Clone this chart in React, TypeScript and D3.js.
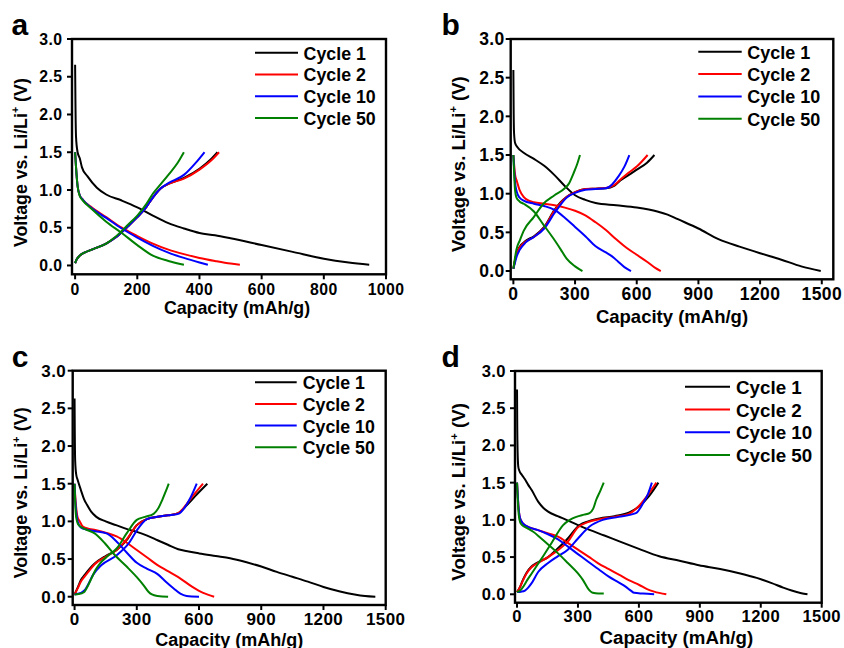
import React from "react";
import * as d3 from "d3";

type Pt = [number, number];

const cycleNames = ["Cycle 1", "Cycle 2", "Cycle 10", "Cycle 50"];
const cycleColors = ["#000000", "#ff0000", "#0000ff", "#008000"];
const voltageTicks = [0, 0.5, 1, 1.5, 2, 2.5, 3];
const capTicksA = [0, 200, 400, 600, 800, 1000];
const capTicksBCD = [0, 300, 600, 900, 1200, 1500];

// ---- panel a : capacity (mAh/g), voltage (V)
const aDis1: Pt[] = [[0, 2.66], [1, 2.2], [3, 1.7], [8, 1.5], [15, 1.42], [22, 1.3], [40, 1.18], [70, 1.03], [100, 0.94], [150, 0.86], [200, 0.77], [250, 0.66], [300, 0.56], [350, 0.49], [400, 0.43], [450, 0.4], [500, 0.36], [600, 0.27], [700, 0.18], [800, 0.09], [880, 0.04], [946, 0.01]];
const aChg1: Pt[] = [[0, 0.03], [5, 0.08], [15, 0.13], [30, 0.17], [60, 0.22], [100, 0.29], [130, 0.37], [170, 0.52], [200, 0.64], [230, 0.78], [250, 0.9], [275, 1.02], [300, 1.08], [350, 1.16], [400, 1.28], [435, 1.4], [458, 1.5]];
const aDis2: Pt[] = [[0, 1.5], [3, 1.3], [8, 1.05], [15, 0.93], [25, 0.87], [50, 0.78], [100, 0.64], [150, 0.5], [200, 0.39], [250, 0.29], [300, 0.21], [350, 0.15], [400, 0.1], [450, 0.06], [500, 0.025], [530, 0.01]];
const aChg2: Pt[] = [[0, 0.03], [5, 0.08], [15, 0.13], [30, 0.17], [60, 0.22], [100, 0.29], [130, 0.37], [170, 0.52], [200, 0.64], [230, 0.78], [250, 0.9], [275, 1.02], [300, 1.08], [350, 1.15], [400, 1.27], [440, 1.4], [463, 1.5]];
const aDis10: Pt[] = [[0, 1.5], [3, 1.3], [8, 1.05], [15, 0.93], [25, 0.87], [50, 0.77], [100, 0.63], [150, 0.49], [200, 0.37], [250, 0.26], [300, 0.17], [350, 0.1], [400, 0.04], [427, 0.01]];
const aChg10: Pt[] = [[0, 0.03], [5, 0.08], [15, 0.13], [30, 0.17], [60, 0.22], [100, 0.29], [130, 0.37], [170, 0.52], [200, 0.64], [230, 0.78], [250, 0.9], [275, 1.02], [300, 1.09], [350, 1.2], [390, 1.37], [416, 1.5]];
const aDis50: Pt[] = [[0, 1.5], [3, 1.3], [8, 1.05], [15, 0.92], [25, 0.86], [50, 0.76], [100, 0.58], [150, 0.43], [200, 0.27], [250, 0.13], [300, 0.06], [350, 0.01]];
const aChg50: Pt[] = [[0, 0.03], [5, 0.08], [15, 0.13], [30, 0.17], [60, 0.22], [100, 0.29], [130, 0.38], [170, 0.54], [200, 0.66], [230, 0.82], [250, 0.95], [270, 1.05], [300, 1.2], [330, 1.36], [350, 1.5]];

// ---- panel b
const bDis1: Pt[] = [[0, 2.6], [1, 2.2], [3, 1.8], [8, 1.66], [20, 1.6], [50, 1.53], [100, 1.45], [150, 1.36], [200, 1.24], [250, 1.1], [300, 0.98], [350, 0.92], [400, 0.88], [500, 0.85], [600, 0.82], [700, 0.77], [750, 0.73], [800, 0.67], [900, 0.55], [1000, 0.41], [1100, 0.315], [1200, 0.23], [1300, 0.15], [1400, 0.06], [1495, 0.0]];
const bChg1: Pt[] = [[0, 0.03], [5, 0.1], [15, 0.22], [30, 0.31], [60, 0.39], [100, 0.45], [150, 0.57], [200, 0.79], [230, 0.89], [260, 0.96], [300, 1.02], [350, 1.06], [400, 1.065], [450, 1.07], [490, 1.1], [520, 1.17], [560, 1.24], [600, 1.31], [650, 1.4], [686, 1.5]];
const bDis2: Pt[] = [[0, 1.5], [3, 1.4], [8, 1.25], [16, 1.17], [30, 1.05], [50, 0.96], [75, 0.91], [100, 0.89], [150, 0.87], [200, 0.85], [250, 0.82], [300, 0.78], [350, 0.72], [400, 0.63], [450, 0.53], [500, 0.41], [550, 0.3], [600, 0.21], [650, 0.12], [690, 0.04], [717, 0.0]];
const bChg2: Pt[] = [[0, 0.03], [5, 0.1], [15, 0.22], [30, 0.3], [60, 0.38], [100, 0.44], [150, 0.56], [200, 0.78], [230, 0.88], [260, 0.96], [300, 1.02], [350, 1.06], [400, 1.065], [450, 1.075], [490, 1.11], [520, 1.18], [560, 1.27], [600, 1.35], [653, 1.5]];
const bDis10: Pt[] = [[0, 1.5], [3, 1.35], [8, 1.15], [16, 1.03], [30, 0.95], [50, 0.91], [100, 0.87], [150, 0.84], [200, 0.79], [250, 0.69], [300, 0.57], [350, 0.45], [400, 0.32], [450, 0.24], [480, 0.19], [510, 0.12], [540, 0.05], [572, 0.0]];
const bChg10: Pt[] = [[0, 0.03], [5, 0.08], [15, 0.18], [30, 0.27], [60, 0.37], [100, 0.44], [150, 0.55], [200, 0.75], [230, 0.86], [260, 0.95], [300, 1.01], [350, 1.05], [400, 1.06], [450, 1.07], [480, 1.12], [510, 1.22], [540, 1.35], [564, 1.5]];
const bDis50: Pt[] = [[0, 1.5], [3, 1.3], [8, 1.05], [15, 0.95], [30, 0.9], [50, 0.87], [100, 0.77], [146, 0.6], [195, 0.42], [230, 0.28], [259, 0.16], [300, 0.06], [336, 0.0]];
const bChg50: Pt[] = [[0, 0.03], [5, 0.12], [15, 0.28], [32, 0.4], [50, 0.52], [100, 0.7], [146, 0.87], [200, 0.98], [250, 1.07], [270, 1.13], [292, 1.26], [310, 1.38], [324, 1.5]];

// ---- panel c
const cDis1: Pt[] = [[0, 2.63], [1, 2.2], [3, 1.8], [8, 1.62], [15, 1.55], [30, 1.42], [45, 1.3], [60, 1.22], [80, 1.13], [105, 1.06], [150, 1.0], [200, 0.95], [250, 0.9], [300, 0.86], [350, 0.81], [400, 0.75], [450, 0.69], [500, 0.63], [550, 0.6], [600, 0.575], [680, 0.54], [750, 0.51], [825, 0.46], [900, 0.4], [975, 0.33], [1050, 0.265], [1125, 0.2], [1200, 0.13], [1280, 0.07], [1350, 0.03], [1400, 0.01], [1450, 0.0]];
const cChg1: Pt[] = [[0, 0.03], [15, 0.12], [30, 0.22], [49, 0.29], [75, 0.38], [97, 0.44], [150, 0.54], [203, 0.62], [251, 0.75], [300, 0.95], [349, 1.03], [400, 1.06], [450, 1.08], [500, 1.11], [543, 1.22], [590, 1.36], [640, 1.5]];
const cDis2: Pt[] = [[0, 1.5], [3, 1.35], [8, 1.18], [15, 1.05], [25, 1.0], [40, 0.93], [70, 0.9], [100, 0.885], [150, 0.85], [203, 0.8], [250, 0.72], [300, 0.62], [350, 0.52], [400, 0.42], [450, 0.34], [500, 0.26], [568, 0.13], [620, 0.05], [673, 0.0]];
const cChg2: Pt[] = [[0, 0.03], [15, 0.11], [30, 0.2], [49, 0.27], [75, 0.36], [97, 0.43], [150, 0.53], [203, 0.62], [251, 0.76], [300, 0.95], [349, 1.03], [400, 1.06], [450, 1.08], [500, 1.11], [540, 1.23], [580, 1.37], [619, 1.5]];
const cDis10: Pt[] = [[0, 1.5], [3, 1.3], [8, 1.12], [15, 1.0], [30, 0.92], [60, 0.89], [100, 0.87], [154, 0.84], [200, 0.74], [250, 0.59], [300, 0.45], [350, 0.37], [400, 0.3], [440, 0.2], [478, 0.11], [510, 0.04], [540, 0.01], [600, 0.0]];
const cChg10: Pt[] = [[0, 0.03], [30, 0.05], [50, 0.09], [65, 0.16], [89, 0.29], [130, 0.42], [203, 0.55], [259, 0.7], [308, 0.91], [349, 1.03], [400, 1.06], [450, 1.08], [500, 1.1], [530, 1.18], [560, 1.32], [589, 1.5]];
const cDis50: Pt[] = [[0, 1.5], [3, 1.25], [8, 1.05], [20, 0.95], [49, 0.9], [97, 0.84], [146, 0.71], [195, 0.55], [251, 0.4], [300, 0.26], [332, 0.155], [355, 0.07], [373, 0.03], [400, 0.01], [451, 0.0]];
const cChg50: Pt[] = [[0, 0.03], [20, 0.035], [45, 0.06], [65, 0.15], [81, 0.24], [100, 0.35], [122, 0.44], [160, 0.54], [203, 0.64], [251, 0.84], [300, 1.02], [340, 1.06], [381, 1.1], [405, 1.18], [422, 1.28], [440, 1.4], [454, 1.5]];

// ---- panel d
const dDis1: Pt[] = [[0, 2.75], [1, 2.3], [3, 1.9], [6, 1.72], [10, 1.67], [25, 1.6], [39, 1.545], [55, 1.47], [72, 1.4], [104, 1.245], [130, 1.16], [153, 1.11], [200, 1.05], [243, 1.0], [300, 0.93], [357, 0.865], [430, 0.79], [504, 0.71], [600, 0.61], [700, 0.51], [800, 0.45], [895, 0.39], [1000, 0.34], [1099, 0.28], [1180, 0.22], [1254, 0.15], [1310, 0.09], [1352, 0.05], [1400, 0.015], [1430, 0.0]];
const dChg1: Pt[] = [[0, 0.03], [15, 0.1], [30, 0.2], [47, 0.29], [70, 0.37], [96, 0.42], [153, 0.5], [194, 0.6], [243, 0.73], [308, 0.93], [350, 0.98], [406, 1.02], [480, 1.05], [553, 1.1], [600, 1.18], [650, 1.32], [696, 1.5]];
const dDis2: Pt[] = [[0, 1.5], [3, 1.35], [8, 1.15], [15, 1.02], [30, 0.95], [60, 0.9], [100, 0.865], [150, 0.82], [202, 0.775], [250, 0.69], [300, 0.6], [350, 0.51], [398, 0.42], [450, 0.34], [504, 0.26], [550, 0.19], [602, 0.125], [640, 0.07], [675, 0.036], [735, 0.0]];
const dChg2: Pt[] = [[0, 0.03], [15, 0.1], [30, 0.19], [47, 0.28], [70, 0.36], [96, 0.41], [153, 0.5], [200, 0.59], [250, 0.71], [300, 0.9], [350, 0.97], [406, 1.01], [480, 1.04], [550, 1.08], [590, 1.16], [640, 1.32], [686, 1.5]];
const dDis10: Pt[] = [[0, 1.5], [3, 1.35], [8, 1.15], [15, 1.02], [30, 0.95], [60, 0.9], [100, 0.865], [150, 0.81], [200, 0.74], [251, 0.64], [300, 0.54], [349, 0.44], [400, 0.34], [450, 0.24], [500, 0.16], [536, 0.1], [560, 0.05], [577, 0.02], [620, 0.01], [675, 0.0]];
const dChg10: Pt[] = [[0, 0.03], [20, 0.035], [39, 0.05], [55, 0.09], [72, 0.15], [104, 0.3], [153, 0.42], [200, 0.51], [250, 0.6], [300, 0.75], [357, 0.91], [422, 1.0], [500, 1.04], [585, 1.09], [620, 1.22], [645, 1.35], [664, 1.5]];
const dDis50: Pt[] = [[0, 1.5], [3, 1.3], [8, 1.08], [15, 0.97], [25, 0.93], [50, 0.89], [80, 0.84], [115, 0.76], [153, 0.67], [202, 0.55], [250, 0.42], [300, 0.28], [325, 0.19], [349, 0.08], [373, 0.02], [400, 0.01], [427, 0.01]];
const dChg50: Pt[] = [[0, 0.03], [15, 0.05], [30, 0.1], [50, 0.19], [72, 0.28], [121, 0.48], [170, 0.69], [227, 0.93], [260, 1.0], [292, 1.04], [330, 1.07], [357, 1.09], [375, 1.15], [390, 1.27], [410, 1.39], [427, 1.5]];

const FONT = "'Liberation Sans', Arial, Helvetica, sans-serif";

interface PanelCfg {
  letter: string;
  letterPos: [number, number];
  box: [number, number, number, number]; // left, top, right, bottom
  xDom: [number, number];
  yDom: [number, number];
  xTicks: number[];
  curves: Pt[][][];
  tickFont: number;
  yLabelGap: number;
  xLabelDy: number;
  titleFont: number;
  xTitleDx: number;
  xTitleDy: number;
  yTitleDx: number;
  yTitleDy: number;
  legendFont: number;
  legend: { x0: number; x1: number; tx: number; y: number; dy: number };
}

const panels: PanelCfg[] = [
  {
    letter: "a", letterPos: [11.5, 34.5], box: [72, 39, 386, 274.3], xDom: [-10, 1000], yDom: [-0.117, 3], xTicks: capTicksA,
    curves: [[aDis1, aChg1], [aDis2, aChg2], [aDis10, aChg10], [aDis50, aChg50]],
    tickFont: 15.8, yLabelGap: 9.5, xLabelDy: 20.5, titleFont: 17.8, xTitleDx: 8, xTitleDy: 39.7, yTitleDx: -45.5, yTitleDy: 6,
    legendFont: 17.8, legend: { x0: -131, x1: -88, tx: -82.4, y: 14.3, dy: 21.7 },
  },
  {
    letter: "b", letterPos: [441.5, 35], box: [510.7, 39, 833.3, 279.3], xDom: [-13, 1556], yDom: [-0.107, 3], xTicks: capTicksBCD,
    curves: [[bDis1, bChg1], [bDis2, bChg2], [bDis10, bChg10], [bDis50, bChg50]],
    tickFont: 17.5, yLabelGap: 6, xLabelDy: 20.5, titleFont: 18.5, xTitleDx: 0, xTitleDy: 43.4, yTitleDx: -46, yTitleDy: 5,
    legendFont: 18, legend: { x0: -135, x1: -91.6, tx: -86, y: 13.3, dy: 22.3 },
  },
  {
    letter: "c", letterPos: [11.8, 367], box: [72.7, 370.7, 385.7, 605], xDom: [-9, 1500], yDom: [-0.11, 3], xTicks: capTicksBCD,
    curves: [[cDis1, cChg1], [cDis2, cChg2], [cDis10, cChg10], [cDis50, cChg50]],
    tickFont: 17, yLabelGap: 6.5, xLabelDy: 19.5, titleFont: 18, xTitleDx: 0, xTitleDy: 40.5, yTitleDx: -46, yTitleDy: 5,
    legendFont: 17.8, legend: { x0: -130.7, x1: -89, tx: -83, y: 12, dy: 21.7 },
  },
  {
    letter: "d", letterPos: [441.5, 367], box: [515, 371, 821.7, 602.7], xDom: [-10, 1500], yDom: [-0.113, 3], xTicks: capTicksBCD,
    curves: [[dDis1, dChg1], [dDis2, dChg2], [dDis10, dChg10], [dDis50, dChg50]],
    tickFont: 16.6, yLabelGap: 9, xLabelDy: 19.5, titleFont: 18.7, xTitleDx: 8, xTitleDy: 41, yTitleDx: -50, yTitleDy: 5,
    legendFont: 18.8, legend: { x0: -136.7, x1: -91.7, tx: -85.7, y: 16.3, dy: 22.7 },
  },
];

const Panel = ({ p }: { p: PanelCfg }) => {
  const [l, t, r, b] = p.box;
  const x = d3.scaleLinear().domain(p.xDom).range([l, r]);
  const y = d3.scaleLinear().domain(p.yDom).range([b, t]);
  const line = d3
    .line<Pt>()
    .x((d) => x(d[0]))
    .y((d) => y(d[1]))
    .curve(d3.curveMonotoneX);
  const tickLen = 5;
  const midY = (t + b) / 2 + p.yTitleDy;
  const yTitleX = l + p.yTitleDx;

  return (
    <g fontFamily={FONT} fontWeight="bold">
      <defs>
        <clipPath id={"clip-" + p.letter}>
          <rect x={l} y={t} width={r - l} height={b - t} />
        </clipPath>
      </defs>

      {/* curves, drawn cycle 1 first so later cycles sit on top */}
      <g clipPath={`url(#clip-${p.letter})`}>
        {p.curves.map((pair, i) =>
          pair.map((pts, j) => (
            <path key={i + "-" + j} d={line(pts) || ""} fill="none" stroke={cycleColors[i]} strokeWidth={2} strokeLinejoin="round" />
          ))
        )}
      </g>

      {/* frame */}
      <rect x={l} y={t} width={r - l} height={b - t} fill="none" stroke="#000" strokeWidth={2.4} />

      {/* y ticks */}
      {voltageTicks.map((v) => (
        <g key={"y" + v}>
          <line x1={l - tickLen} x2={l} y1={y(v)} y2={y(v)} stroke="#000" strokeWidth={2} />
          <text x={l - p.yLabelGap} y={y(v)} dy="0.36em" textAnchor="end" fontSize={p.tickFont} letterSpacing={0.4}>
            {v.toFixed(1)}
          </text>
        </g>
      ))}

      {/* x ticks */}
      {p.xTicks.map((c) => (
        <g key={"x" + c}>
          <line x1={x(c)} x2={x(c)} y1={b} y2={b + tickLen} stroke="#000" strokeWidth={2} />
          <text x={x(c)} y={b + p.xLabelDy} textAnchor="middle" fontSize={p.tickFont} letterSpacing={0.4}>
            {c}
          </text>
        </g>
      ))}

      {/* axis titles */}
      <text x={(l + r) / 2 + p.xTitleDx} y={b + p.xTitleDy} textAnchor="middle" fontSize={p.titleFont}>
        Capacity (mAh/g)
      </text>
      <text transform={`translate(${yTitleX},${midY}) rotate(-90)`} textAnchor="middle" fontSize={p.titleFont}>
        Voltage vs. Li/Li
        <tspan dy={-p.titleFont * 0.4} fontSize={p.titleFont * 0.6}>+</tspan>
        <tspan dy={p.titleFont * 0.4}> (V)</tspan>
      </text>

      {/* legend */}
      {cycleNames.map((name, i) => {
        const ly = t + p.legend.y + i * p.legend.dy;
        return (
          <g key={name}>
            <line x1={r + p.legend.x0} x2={r + p.legend.x1} y1={ly - 0.5} y2={ly - 0.5} stroke={cycleColors[i]} strokeWidth={2} />
            <text x={r + p.legend.tx} y={ly} dy="0.36em" fontSize={p.legendFont}>
              {name}
            </text>
          </g>
        );
      })}

      {/* panel letter */}
      <text x={p.letterPos[0]} y={p.letterPos[1]} fontSize={30}>
        {p.letter}
      </text>
    </g>
  );
};

export default function App() {
  return (
    <div style={{ position: "absolute", left: 0, top: 0 }}>
      <svg width={844} height={648} style={{ display: "block", background: "#fff" }}>
        {panels.map((p) => (
          <Panel key={p.letter} p={p} />
        ))}
      </svg>
    </div>
  );
}
